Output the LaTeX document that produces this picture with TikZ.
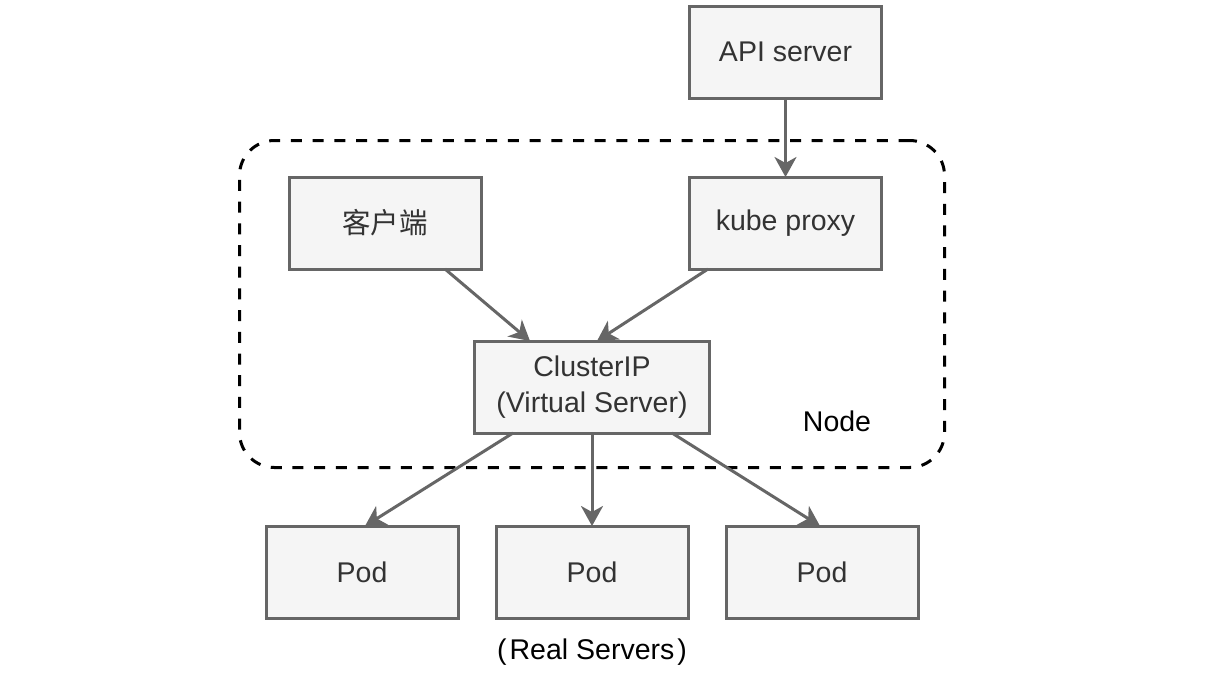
\documentclass[tikz,border=0pt]{standalone}
\usepackage{fontspec}
\setmainfont{Liberation Sans}
\newfontfamily\cjkfont{Noto Sans CJK SC}
\usetikzlibrary{arrows.meta}
\definecolor{boxline}{HTML}{666666}
\definecolor{boxfill}{HTML}{F5F5F5}
\definecolor{boxtext}{HTML}{333333}
\tikzset{
  box/.style={draw=boxline, fill=boxfill, line width=3pt, text=boxtext,
    minimum width=192pt, minimum height=92pt, inner sep=0pt, outer sep=0pt,
    font=\fontsize{28.5}{36}\selectfont, align=center},
  conn/.style={draw=boxline, line width=3pt,
    -{Stealth[length=20pt, width=22pt, inset=6pt]}},
  plain/.style={font=\fontsize{28.5}{34}\selectfont, text=black, inner sep=0pt},
  nodearea/.style={draw=black, line width=3pt, dash pattern=on 11pt off 10.7pt,
    rounded corners=35pt, minimum width=705pt, minimum height=327pt,
    inner sep=0pt, outer sep=0pt}
}
\begin{document}
\begin{tikzpicture}[x=1pt, y=-1pt]
\useasboundingbox (0,0) rectangle (1222,673);
\node[nodearea] (area) at (592,304) {};
\node[plain] (nodelabel) at (837,421) {Node};

\node[box] (api) at (785.5,52) {API server};
\node[box] (kube) at (785.5,223) {kube proxy};
\node[box] (client) at (385,223) {\cjkfont 客户端};
\node[box, minimum width=235pt] (cluster) at (592,387) {\raisebox{-2pt}{ClusterIP}\\\raisebox{-2pt}{(Virtual Server)}};
\node[box] (pod1) at (362,572) {Pod};
\node[box] (pod2) at (592,572) {Pod};
\node[box] (pod3) at (822,572) {Pod};
\node[plain] (real) at (592,652) {(\kern3pt Real Servers\kern3pt)};

\draw[conn] (api.south) -- (kube.north);
\draw[conn] ([xshift=60pt]client.south) -- ([xshift=-62pt]cluster.north);
\draw[conn] ([xshift=-77.5pt]kube.south) -- ([xshift=5pt]cluster.north);
\draw[conn] ([xshift=-79pt]cluster.south) -- ([xshift=3pt]pod1.north);
\draw[conn] (cluster.south) -- (pod2.north);
\draw[conn] ([xshift=80pt]cluster.south) -- ([xshift=-2pt]pod3.north);
\end{tikzpicture}
\end{document}
